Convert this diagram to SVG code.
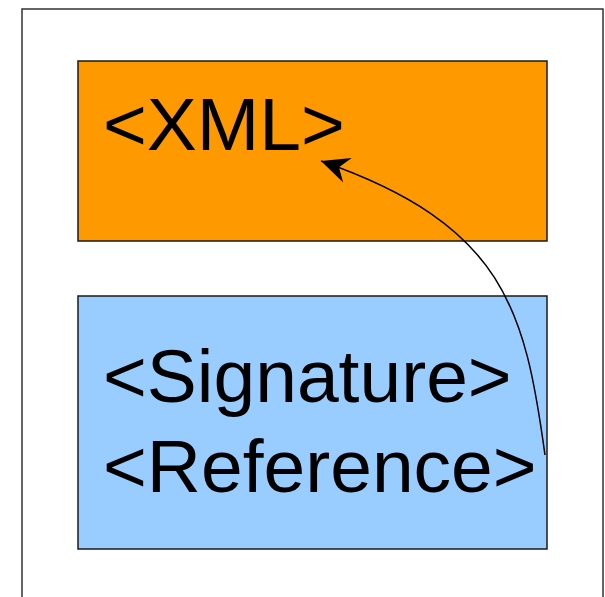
<svg xmlns="http://www.w3.org/2000/svg" width="605" height="597" viewBox="0 0 605 597">
<style>
.box{stroke:#1a1a1a;stroke-width:1.5}
.lbl{font-family:"Liberation Sans",Arial,sans-serif;font-size:75px;fill:#000}
.conn{fill:none;stroke:#000;stroke-width:1.5}
</style>
<defs>
<marker id="arr" markerUnits="userSpaceOnUse" viewBox="-30 -15 32 30" refX="0" refY="0" markerWidth="32" markerHeight="30" orient="auto" overflow="visible">
<path d="M0,0 L-28,-13 L-19,0 L-28,13 Z" fill="#000"/>
</marker>
</defs>
<rect x="22" y="9" width="581" height="620" fill="#fff" stroke="#333" stroke-width="1.5"/>
<g id="xml">
<rect class="box" x="78" y="61" width="469" height="180" fill="#FF9900"/>
<text class="lbl" x="103" y="150">&lt;XML&gt;</text>
</g>
<g id="signature">
<rect class="box" x="78" y="296" width="469" height="253" fill="#99CCFF"/>
<text class="lbl" x="103" y="402">&lt;Signature&gt;</text>
<text class="lbl" x="103" y="492">&lt;Reference&gt;</text>
</g>
<g id="connectors">
<path class="conn" d="M545,455 C525,310 505,225 321,161" marker-end="url(#arr)"/>
</g>
</svg>
